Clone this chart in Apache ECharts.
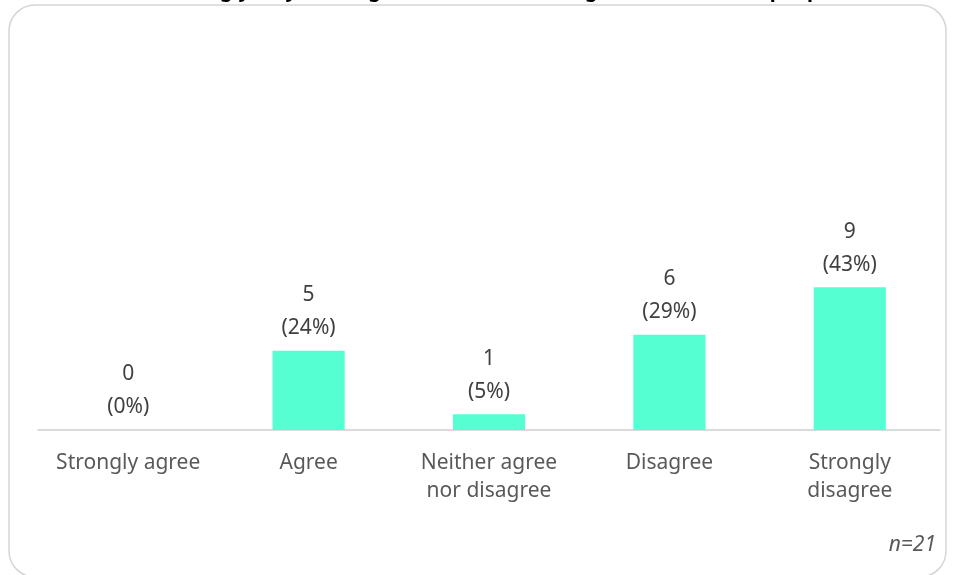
<!DOCTYPE html>
<html>
<head>
<meta charset="utf-8">
<script src="https://cdn.jsdelivr.net/npm/echarts@6/dist/echarts.min.js"></script>
<style>
html,body{margin:0;padding:0;background:#fff;}
#chart{width:955px;height:575px;}
</style>
</head>
<body>
<div id="chart"></div>
<script>
const titleText = 'How strongly do you disagree that it is hard to get to know other people';
const categories = ['Strongly agree', 'Agree', 'Neither agree\nnor disagree', 'Disagree', 'Strongly\ndisagree'];
const counts = [0, 5, 1, 6, 9];
const percents = [0, 24, 5, 29, 43];
const sampleNote = 'n=21';

const chart = echarts.init(document.getElementById('chart'));
const FONT = '"Noto Sans", "Open Sans", sans-serif';
chart.setOption({
  animation: false,
  title: {
    text: titleText,
    left: 'center',
    top: -24,
    textStyle: { fontFamily: FONT, fontSize: 20, fontWeight: 'bold', color: '#000', lineHeight: 20 }
  },
  graphic: [
    {
      type: 'rect',
      shape: { x: 9, y: 5, width: 937, height: 572, r: 26 },
      style: { fill: 'none', stroke: '#d6d6d6', lineWidth: 1.5 },
      z: -1
    },
    {
      type: 'text',
      right: 19,
      top: 535,
      style: { text: sampleNote, font: 'italic 21px ' + FONT, fill: '#595959' }
    }
  ],
  grid: { left: 38, right: 15, top: 97, bottom: 145, containLabel: false },
  xAxis: {
    type: 'category',
    data: categories,
    axisLine: { show: true, lineStyle: { color: '#d0d0d0', width: 1.5 } },
    axisTick: { show: false },
    axisLabel: {
      interval: 0,
      margin: 19,
      fontFamily: FONT,
      fontSize: 21,
      lineHeight: 28,
      color: '#595959',
      align: 'center'
    }
  },
  yAxis: {
    type: 'value',
    min: 0,
    max: 21,
    show: false
  },
  series: [{
    type: 'bar',
    data: counts,
    barWidth: '40%',
    itemStyle: { color: '#55ffd2' },
    label: {
      show: true,
      position: 'top',
      distance: 6,
      fontFamily: FONT,
      fontSize: 21,
      lineHeight: 33,
      color: '#404040',
      formatter: function (p) { return counts[p.dataIndex] + '\n(' + percents[p.dataIndex] + '%)'; }
    }
  }]
});
</script>
</body>
</html>
